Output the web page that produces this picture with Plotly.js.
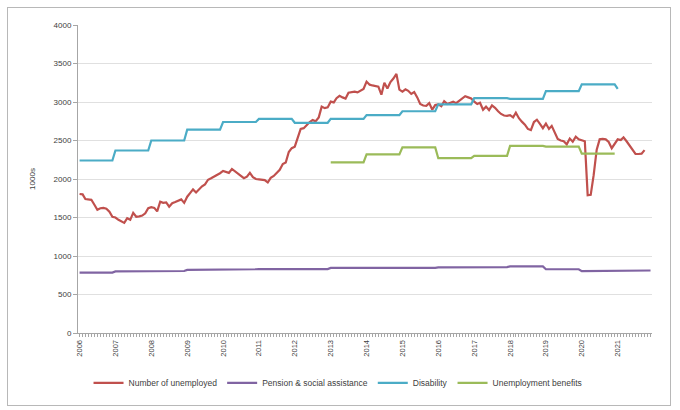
<!DOCTYPE html>
<html>
<head>
<meta charset="utf-8">
<script src="https://cdn.plot.ly/plotly-3.0.1.min.js"></script>
<style>
  html, body { margin:0; padding:0; background:#fff; }
  #chart { position:absolute; left:0; top:0; width:680px; height:410px; }
  #frame { position:absolute; left:7px; top:7px; width:662px; height:397px; border:1px solid #b8b8b8; pointer-events:none; }
</style>
</head>
<body>
<div id="chart"></div>
<div id="frame"></div>
<script>
// Number of unemployed, monthly from Jan 2006 (thousands)
const unemployedStart = [2006, 1];
const unemployed = [
  1805,1800,1740,1735,1730,1665,1600,1620,1625,1615,1575,1510,
  1500,1470,1455,1430,1490,1470,1560,1510,1515,1525,1555,1620,
  1635,1625,1580,1705,1690,1695,1640,1685,1700,1715,1735,1690,
  1770,1820,1865,1825,1870,1905,1930,1990,2010,2030,2050,2075,
  2105,2090,2080,2130,2100,2060,2030,2010,2030,2080,2025,2000,
  1995,1990,1985,1955,2015,2040,2080,2120,2195,2215,2350,2400,
  2420,2540,2650,2660,2700,2740,2765,2750,2800,2940,2920,2930,
  3005,2995,3050,3080,3060,3045,3120,3130,3135,3125,3150,3170,
  3265,3225,3215,3210,3200,3095,3250,3175,3260,3305,3365,3160,
  3135,3165,3145,3105,3130,3060,2975,2955,2950,2985,2900,2960,
  2970,2945,3010,2975,2990,3005,2985,3015,3035,3075,3060,3045,
  3005,2975,2990,2900,2940,2895,2955,2925,2880,2845,2825,2820,
  2830,2800,2860,2790,2745,2705,2650,2635,2740,2770,2715,2660,
  2720,2650,2690,2610,2520,2500,2490,2450,2525,2485,2550,2515,
  2500,2490,1790,1795,2050,2380,2515,2520,2515,2480,2400,2455,
  2515,2505,2540,2490,2430,2370,2325,2325,2330,2375
];

// Annual series (constant through each year)
const years = [2006,2007,2008,2009,2010,2011,2012,2013,2014,2015,2016,2017,2018,2019,2020,2021];
const pension = [785,800,805,820,828,830,830,845,840,845,852,855,865,828,803,812];
const disability = [2240,2370,2500,2640,2740,2780,2730,2780,2830,2880,2970,3050,3040,3140,3230,3170]; // 2021: January only
const benefitYears = [2013,2014,2015,2016,2017,2018,2019,2020];
const benefits = [2215,2320,2410,2270,2300,2430,2420,2330];

const seriesNames = ['Number of unemployed','Pension & social assistance','Disability','Unemployment benefits'];
const colors = ['#C0504D','#8064A2','#4BACC6','#9BBB59'];

function ym(y, m) { return y + '-' + String(m).padStart(2, '0') + '-01'; }

const uX = unemployed.map((_, i) => {
  const t = unemployedStart[1] - 1 + i;
  return ym(unemployedStart[0] + Math.floor(t / 12), (t % 12) + 1);
});

function annual(yrs, vals, lastJanOnly) {
  const x = [], y = [];
  yrs.forEach((yr, i) => {
    x.push(ym(yr, 1)); y.push(vals[i]);
    if (!(lastJanOnly && i === yrs.length - 1)) { x.push(ym(yr, 12)); y.push(vals[i]); }
  });
  return {x, y};
}

const pen = annual(years, pension, false);
const dis = annual(years, disability, true);
const ben = annual(benefitYears, benefits, false);

const lw = 2.2;
const traces = [
  {x: uX, y: unemployed, name: seriesNames[0], type: 'scatter', mode: 'lines', line: {color: colors[0], width: lw}},
  {x: pen.x, y: pen.y, name: seriesNames[1], type: 'scatter', mode: 'lines', line: {color: colors[1], width: lw}},
  {x: dis.x, y: dis.y, name: seriesNames[2], type: 'scatter', mode: 'lines', line: {color: colors[2], width: lw}},
  {x: ben.x, y: ben.y, name: seriesNames[3], type: 'scatter', mode: 'lines', line: {color: colors[3], width: lw}}
];

const font = {family: 'Liberation Sans, Arial, sans-serif', size: 8, color: '#404040'};

const layout = {
  width: 680, height: 410,
  margin: {l: 78, r: 28, t: 25, b: 77, autoexpand: false},
  paper_bgcolor: '#ffffff', plot_bgcolor: '#ffffff',
  font: font,
  showlegend: true,
  legend: {
    orientation: 'h', x: 0.453, xanchor: 'center',
    yref: 'container', y: 0.066, yanchor: 'middle',
    font: {family: font.family, size: 8.5, color: '#404040'},
    itemwidth: 30, tracegroupgap: 0
  },
  xaxis: {
    type: 'date',
    range: ['2005-12-16', '2021-12-16'],
    tick0: '2006-01-01', dtick: 'M12', tickformat: '%Y',
    tickangle: -90,
    ticks: 'outside', ticklen: 3, tickcolor: '#a6a6a6',
    minor: {dtick: 'M1', ticks: 'outside', ticklen: 3, tickcolor: '#a6a6a6', showgrid: false},
    showgrid: false, zeroline: false,
    showline: true, linecolor: '#a6a6a6', linewidth: 1,
    tickfont: {family: font.family, size: 7.5, color: '#404040'},
    automargin: false,
    fixedrange: true
  },
  yaxis: {
    range: [0, 4000], dtick: 500, tick0: 0,
    ticks: 'outside', ticklen: 4, tickcolor: '#a6a6a6',
    showgrid: true, gridcolor: '#e0e0e0', gridwidth: 1,
    zeroline: false, showline: true, linecolor: '#a6a6a6', linewidth: 1,
    tickfont: {family: font.family, size: 8, color: '#404040'},
    title: {text: '1000s', font: {family: font.family, size: 8, color: '#404040'}, standoff: 16},
    automargin: false,
    fixedrange: true
  }
};

Plotly.newPlot('chart', traces, layout, {staticPlot: true, displayModeBar: false});
</script>
</body>
</html>
